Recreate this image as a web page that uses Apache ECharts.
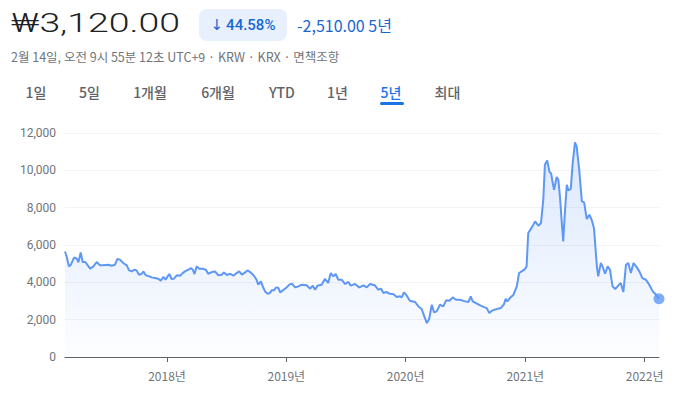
<!DOCTYPE html>
<html>
<head>
<meta charset="utf-8">
<script src="https://cdn.jsdelivr.net/npm/echarts@6/dist/echarts.min.js"></script>
<style>
  html, body { margin: 0; padding: 0; background: #fff; }
  #chart { width: 681px; height: 398px; }
</style>
</head>
<body>
<div id="chart"></div>
<script>
// 5년 주가 (KRW)
var dates = [
  '2017-02-23','2017-02-28','2017-03-07','2017-03-13','2017-03-23','2017-03-31','2017-04-05','2017-04-12','2017-04-18','2017-04-26',
  '2017-05-02','2017-05-11','2017-05-21','2017-05-31','2017-06-10','2017-06-20','2017-07-05','2017-07-16','2017-07-26','2017-08-02',
  '2017-08-10','2017-08-20','2017-08-31','2017-09-07','2017-09-15','2017-09-23','2017-09-30','2017-10-07','2017-10-16','2017-10-21',
  '2017-10-28','2017-11-08','2017-11-15','2017-11-25','2017-12-05','2017-12-13','2017-12-21','2017-12-28','2018-01-03','2018-01-08',
  '2018-01-15','2018-01-22','2018-01-31','2018-02-10','2018-02-18','2018-02-25','2018-03-07','2018-03-15','2018-03-21','2018-03-26',
  '2018-04-02','2018-04-10','2018-04-20','2018-04-30','2018-05-07','2018-05-18','2018-05-28','2018-06-07','2018-06-17','2018-06-24',
  '2018-07-03','2018-07-13','2018-07-23','2018-08-02','2018-08-10','2018-08-18','2018-08-28','2018-09-04','2018-09-14','2018-09-24',
  '2018-10-02','2018-10-07','2018-10-15','2018-10-23','2018-10-28','2018-11-05','2018-11-12','2018-11-17','2018-11-24','2018-12-01',
  '2018-12-08','2018-12-13','2018-12-21','2018-12-31','2019-01-10','2019-01-18','2019-01-28','2019-02-07','2019-02-17','2019-03-04',
  '2019-03-15','2019-03-23','2019-03-30','2019-04-06','2019-04-19','2019-04-29','2019-05-09','2019-05-17','2019-05-25','2019-06-01',
  '2019-06-09','2019-06-19','2019-06-30','2019-07-10','2019-07-17','2019-07-30','2019-08-12','2019-08-25','2019-09-04','2019-09-14',
  '2019-09-29','2019-10-09','2019-10-18','2019-10-25','2019-11-02','2019-11-14','2019-11-24','2019-12-05','2019-12-15','2019-12-20',
  '2019-12-27','2020-01-04','2020-01-14','2020-01-30','2020-02-09','2020-02-19','2020-02-27','2020-03-06','2020-03-13','2020-03-21',
  '2020-03-28','2020-04-05','2020-04-15','2020-04-25','2020-05-04','2020-05-14','2020-05-24','2020-06-03','2020-06-15','2020-07-01',
  '2020-07-11','2020-07-18','2020-07-24','2020-08-03','2020-08-16','2020-08-28','2020-09-05','2020-09-13','2020-09-23','2020-10-06',
  '2020-10-18','2020-10-28','2020-11-02','2020-11-07','2020-11-15','2020-11-26','2020-12-06','2020-12-13','2020-12-21','2020-12-31',
  '2021-01-05','2021-01-10','2021-01-21','2021-01-31','2021-02-10','2021-02-18','2021-02-25','2021-03-02','2021-03-09','2021-03-16',
  '2021-03-21','2021-03-26','2021-03-30','2021-04-07','2021-04-12','2021-04-17','2021-04-22','2021-04-27','2021-05-02','2021-05-08',
  '2021-05-13','2021-05-20','2021-05-26','2021-06-02','2021-06-07','2021-06-15','2021-06-23','2021-06-30','2021-07-08','2021-07-16',
  '2021-07-23','2021-07-30','2021-08-08','2021-08-12','2021-08-20','2021-08-26','2021-09-02','2021-09-10','2021-09-17','2021-09-25',
  '2021-10-03','2021-10-13','2021-10-20','2021-10-28','2021-11-05','2021-11-12','2021-11-20','2021-11-28','2021-12-06','2021-12-16',
  '2021-12-25','2022-01-05','2022-01-15','2022-01-26','2022-02-02','2022-02-14'
];
var prices = [
  5650,5390,4855,4945,5335,5265,5070,5605,5090,5090,
  4945,4730,4855,5090,4910,4910,4945,4890,4945,5250,
  5215,5035,4910,4640,4585,4675,4640,4410,4460,4585,
  4375,4320,4265,4230,4195,4090,4285,4140,4320,4445,
  4180,4195,4375,4355,4495,4585,4675,4765,4675,4445,
  4855,4730,4730,4675,4460,4550,4585,4375,4410,4530,
  4390,4460,4355,4495,4585,4410,4530,4640,4530,4355,
  4140,3875,4055,3695,3515,3390,3425,3570,3570,3730,
  3695,3460,3570,3695,3875,3930,3730,3785,3875,3840,
  3660,3820,3605,3820,3875,4180,3965,4500,4320,4445,
  4140,4140,3910,4020,3820,3910,3730,3840,3730,3910,
  3840,3605,3660,3425,3480,3390,3370,3215,3250,3195,
  3460,3300,3015,2945,2710,2570,2175,1820,2035,2800,
  2390,2445,2800,2710,3035,3015,3195,3070,3070,2980,
  2945,3250,2980,2890,2765,2675,2620,2355,2500,2570,
  2620,2835,3125,2980,3160,3340,3785,4500,4585,4710,
  4855,6640,6945,7265,7035,7175,8425,10300,10530,9920,
  9830,9320,8960,9640,9500,8600,7355,6195,7715,9230,
  8925,9000,10390,11500,11280,10030,8335,8285,7390,7620,
  7355,6910,4855,4320,5035,4820,4460,4855,4675,3785,
  3640,3840,3965,3480,4945,5035,4500,5035,4855,4585,
  4230,4140,3875,3515,3390,3120
];
var yTicks = [0, 2000, 4000, 6000, 8000, 10000, 12000];

var priceText = '₩3,120.00';
var changeArrow = '↓';
var changePct = '44.58%';
var changeAbs = '-2,510.00 5년';
var subtitle = '2월 14일, 오전 9시 55분 12초 UTC+9 · KRW · KRX · 면책조항';
var tabs = ['1일', '5일', '1개월', '6개월', 'YTD', '1년', '5년', '최대'];
var activeTab = '5년';

// layout only
var tabCenters = [36, 89.5, 150, 218, 282, 337.5, 391, 447.5];
var lineColor = '#5e97f6';
var korFont = '"Noto Sans CJK KR", Roboto, sans-serif';
var priceFont = '300 26px Roboto';

var chart = echarts.init(document.getElementById('chart'), null, {renderer: 'svg'});

// stretch the big price to the width it has in the picture
var ctx = document.createElement('canvas').getContext('2d');
ctx.font = priceFont;
var priceScale = 169 / ctx.measureText(priceText).width;

var seriesData = dates.map(function (d, i) { return [d, prices[i]]; });
var lastPoint = seriesData[seriesData.length - 1];

var graphics = [
  {type: 'text', x: 11, y: 23, scaleX: priceScale,
    style: {text: priceText, x: 0, y: 0, font: priceFont, fill: '#202124', textVerticalAlign: 'middle'}},
  {type: 'rect', shape: {x: 199, y: 9, width: 88, height: 32, r: 8}, style: {fill: '#e8f0fe'}},
  {type: 'text', style: {
    text: '{a|' + changeArrow + '}{b|' + changePct + '}', x: 243, y: 25,
    textAlign: 'center', textVerticalAlign: 'middle',
    rich: {
      a: {fontFamily: '"DejaVu Sans"', fontSize: 15, fill: '#1967d2', padding: [0, 3, 0, 0]},
      b: {fontFamily: 'Roboto', fontSize: 15, fontWeight: 500, fill: '#1967d2'}
    }
  }},
  {type: 'text', style: {text: changeAbs, x: 297, y: 25, font: '16px ' + korFont, fill: '#1967d2', textVerticalAlign: 'middle'}},
  {type: 'text', style: {text: subtitle, x: 11, y: 56, font: '12.5px ' + korFont, fill: '#70757a', textVerticalAlign: 'middle'}},
  {type: 'rect', shape: {x: 380, y: 102, width: 24, height: 3, r: 1.5}, style: {fill: '#1a73e8'}}
];
tabs.forEach(function (t, i) {
  graphics.push({type: 'text', style: {
    text: t, x: tabCenters[i], y: 92, font: '500 14px ' + korFont,
    fill: t === activeTab ? '#1a73e8' : '#5f6368', textAlign: 'center', textVerticalAlign: 'middle'
  }});
});

var option = {
  animation: false,
  graphic: graphics,
  grid: {left: 65, right: 22, top: 133, bottom: 41},
  xAxis: {
    type: 'time',
    min: dates[0],
    max: dates[dates.length - 1],
    splitNumber: 5,
    minInterval: 365 * 24 * 3600 * 1000,
    axisLine: {lineStyle: {color: '#5f6368', width: 1}},
    axisTick: {length: 5, lineStyle: {color: '#5f6368'}},
    axisLabel: {
      color: '#70757a', fontSize: 12, fontFamily: korFont, margin: 12,
      showMinLabel: false, showMaxLabel: false,
      formatter: function (v) { return new Date(v).getFullYear() + '년'; }
    },
    splitLine: {show: false}
  },
  yAxis: {
    type: 'value',
    min: yTicks[0],
    max: yTicks[yTicks.length - 1],
    interval: 2000,
    axisLine: {show: false},
    axisTick: {show: false},
    axisLabel: {
      color: '#70757a', fontSize: 12, fontFamily: 'Roboto', margin: 9,
      formatter: function (v) { return v.toLocaleString('en-US'); }
    },
    splitLine: {lineStyle: {color: '#f1f3f4'}}
  },
  series: [
    {
      type: 'line',
      data: seriesData,
      showSymbol: false,
      smooth: false,
      lineStyle: {color: lineColor, width: 2},
      areaStyle: {
        color: new echarts.graphic.LinearGradient(0, 0, 0, 1, [
          {offset: 0, color: 'rgba(94,151,246,0.32)'},
          {offset: 1, color: 'rgba(94,151,246,0.02)'}
        ])
      }
    },
    {
      type: 'scatter',
      data: [lastPoint],
      symbolSize: 11,
      itemStyle: {color: lineColor},
      z: 5
    }
  ]
};
chart.setOption(option);
</script>
</body>
</html>
